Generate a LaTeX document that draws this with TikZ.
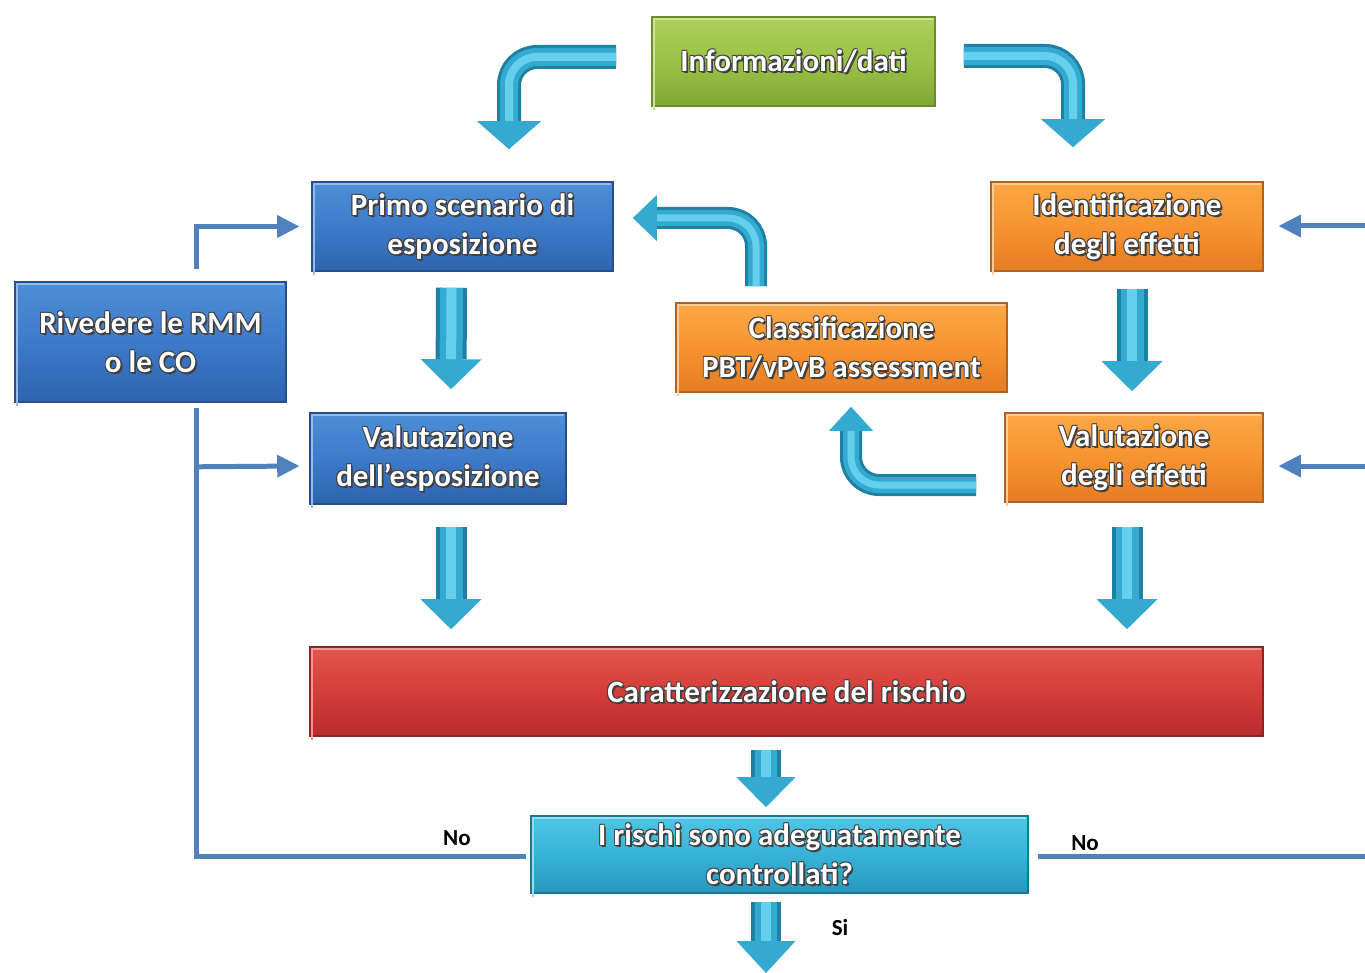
\documentclass[tikz,border=0pt]{standalone}
\usepackage{fontspec}
\setmainfont{Carlito}
\usetikzlibrary{arrows.meta,calc}

% box colours: top / middle / bottom / edge
\definecolor{gtop}{RGB}{172,208,90}\definecolor{gmid}{RGB}{155,193,70}\definecolor{gbot}{RGB}{128,168,52}\definecolor{gedge}{RGB}{110,140,45}
\definecolor{btop}{RGB}{78,142,216}\definecolor{bmid}{RGB}{62,122,200}\definecolor{bbot}{RGB}{45,100,176}\definecolor{bedge}{RGB}{40,78,135}
\definecolor{otop}{RGB}{252,168,70}\definecolor{omid}{RGB}{247,148,50}\definecolor{obot}{RGB}{228,124,35}\definecolor{oedge}{RGB}{175,98,40}
\definecolor{rtop}{RGB}{228,84,78}\definecolor{rmid}{RGB}{212,62,57}\definecolor{rbot}{RGB}{184,44,44}\definecolor{redge}{RGB}{135,38,38}
\definecolor{ctop}{RGB}{80,198,230}\definecolor{cmid}{RGB}{56,178,215}\definecolor{cbot}{RGB}{38,152,192}\definecolor{cedge}{RGB}{30,118,148}
% block arrows and thin connectors
\definecolor{adark}{RGB}{30,128,162}
\definecolor{amid}{RGB}{52,170,208}
\definecolor{alight}{RGB}{100,208,238}
\definecolor{lineblue}{RGB}{79,129,189}

\tikzset{
  fbox/.style={rectangle, inner sep=0pt, line width=0.8pt},
  ftext/.style={font=\fontsize{15.5}{19.5}\selectfont\bfseries, text=white, align=center, inner sep=0pt},
  fline/.style={draw=lineblue, line width=2.5pt},
  farrow/.style={fline, -{Triangle[width=11.5pt, length=11pt, line width=0pt]}},
  lab/.style={font=\fontsize{11.5}{13}\selectfont\bfseries, text=black, inner sep=0pt}
}

% #1 name, #2 x, #3 y, #4 width, #5 height, #6 colour prefix, #7 text
\newcommand\flowbox[7]{%
  \node[fbox, minimum width=#4, minimum height=#5, top color=#6top, bottom color=#6bot, middle color=#6mid, draw=#6edge] (#1) at (#2,#3) {};
  \draw[#6top!60!white, line width=0.8pt] ([shift={(3,3)}]#1.south west) -- ([shift={(3,3)}]#1.north west) -- ([shift={(-3,3)}]#1.north east);
  \foreach \dx/\dy in {1/1,-0.8/0.8,0.8/-0.8,-0.8/-0.8,1.8/2}
    \node[ftext, text=black!75] at ([shift={(\dx,\dy)}]#1.center) {#7};
  \node[ftext] at (#1.center) {#7};
}

% #1 shaft width, #2 core width, #3 highlight width, #4 head width, #5 head length, #6 path
\newcommand\blockarrow[6]{%
  \draw[adark, line width=#1, rounded corners=14pt, -{Triangle[width=#4, length=#5, line width=0pt, color=amid]}] #6;
  \draw[amid, line width=#2, rounded corners=14pt, shorten >=#5, line cap=butt] #6;
  \draw[alight, line width=#3, rounded corners=14pt, shorten >=#5, line cap=butt] #6;
}

\begin{document}
\begin{tikzpicture}[x=0.5pt, y=-0.5pt]
\useasboundingbox (0,0) rectangle (1365,973);
\fill[white] (0,0) rectangle (1365,973);

% boxes
\flowbox{info}{793.5}{61.5}{141.5pt}{44.5pt}{g}{Informazioni/dati}
\flowbox{primo}{462.5}{226.5}{150.5pt}{44.5pt}{b}{Primo scenario di\\esposizione}
\flowbox{ident}{1127}{226.5}{136pt}{44.5pt}{o}{Identificazione\\degli effetti}
\flowbox{riv}{150.5}{342}{135.5pt}{60pt}{b}{Rivedere le RMM\\o le CO}
\flowbox{class}{841.5}{347.5}{165.5pt}{44.5pt}{o}{Classificazione\\PBT/vPvB assessment}
\flowbox{valesp}{438}{458.5}{128pt}{45.5pt}{b}{Valutazione\\dell’esposizione}
\flowbox{valeff}{1134}{457.5}{129pt}{44.5pt}{o}{Valutazione\\degli effetti}
\flowbox{car}{786.5}{691.5}{476.5pt}{44.5pt}{r}{Caratterizzazione del rischio}
\flowbox{ctrl}{779.5}{854.5}{248.5pt}{38.5pt}{c}{I rischi sono adeguatamente\\controllati?}

% block arrows
\blockarrow{12pt}{9pt}{4pt}{32pt}{14pt}{($(info.west)+(-35,-4.5)$) -| ($(primo.north)+(46.5,-32)$)}
\blockarrow{12pt}{9pt}{4pt}{32pt}{14pt}{($(info.east)+(28,-5.5)$) -| ($(ident.north)+(-54,-34)$)}
\blockarrow{15.5pt}{11.5pt}{5pt}{30.5pt}{15pt}{($(primo.south)+(-11,16)$) -- ($(valesp.north)+(13,-23)$)}
\blockarrow{15.5pt}{11.5pt}{5pt}{30.5pt}{15pt}{($(ident.south)+(5,17)$) -- ($(valeff.north)+(-2,-21)$)}
\blockarrow{15.5pt}{11.5pt}{5pt}{30.5pt}{15pt}{($(valesp.south)+(13,22)$) -- ($(car.north)+(-335.5,-17)$)}
\blockarrow{15.5pt}{11.5pt}{5pt}{30.5pt}{15pt}{($(valeff.south)+(-7,24)$) -- ($(car.north)+(340.5,-17)$)}
\blockarrow{15pt}{11pt}{5pt}{29.5pt}{15pt}{($(car.south)+(-20.5,13)$) -- ($(ctrl.north)+(-13.5,-8)$)}
\coordinate (out) at (766,973);
\blockarrow{15pt}{11pt}{5pt}{29.5pt}{16pt}{($(ctrl.south)+(-13.5,8)$) -- (out)}
\blockarrow{11pt}{8pt}{3.5pt}{23pt}{12pt}{($(class.north)+(-85.5,-16)$) |- ($(primo.east)+(19,-8.5)$)}
\blockarrow{11pt}{8pt}{3.5pt}{22pt}{12pt}{($(valeff.west)+(-28,27.5)$) -| ($(class.south)+(9.5,14)$)}

% thin feedback connectors
\coordinate (branch) at ($(riv.south)+(45.5,64)$);
\draw[farrow] ($(riv.north)+(45.5,-12)$) |- ($(primo.west)+(-12,0)$);
\draw[fline] ($(riv.south)+(45.5,5)$) |- ($(ctrl.west)+(-4,1.5)$);
\draw[farrow] (branch) -- ($(valesp.west)+(-10,7.5)$);
\coordinate (redge) at (1365,856);
\coordinate (rin1) at (1365,226);
\coordinate (rin2) at (1365,466);
\draw[fline] ($(ctrl.east)+(9,1.5)$) -- (redge);
\draw[farrow] (rin1) -- ($(ident.east)+(15,-0.5)$);
\draw[farrow] (rin2) -- ($(valeff.east)+(15,8.5)$);

% answer labels
\node[lab] (no1) at (457,838) {No};
\node[lab] (no2) at (1085,843) {No};
\node[lab] (si) at (840,928) {Si};
\end{tikzpicture}
\end{document}
